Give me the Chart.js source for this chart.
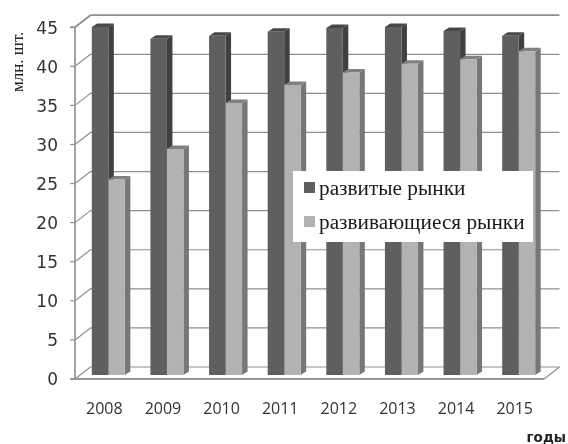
<!DOCTYPE html>
<html>
<head>
<meta charset="utf-8">
<script src="https://cdn.jsdelivr.net/npm/chart.js@4"></script>
<style>
  html, body { margin: 0; padding: 0; background: #fff; }
  canvas { display: block; }
</style>
</head>
<body>
<canvas id="chart" width="568" height="444"></canvas>
<script>
"use strict";

const YEARS = ["2008", "2009", "2010", "2011", "2012", "2013", "2014", "2015"];
const DEVELOPED = [44.5, 43.0, 43.4, 43.9, 44.4, 44.5, 44.0, 43.4];
const EMERGING = [25.0, 28.9, 34.8, 37.1, 38.7, 39.8, 40.4, 41.4];

// bars stand a little inside the floor, so walls and axis sit offset from the plot area
const FLOOR_DX = 4, FLOOR_DY = 4;
const WALL_DX = 15.5, WALL_DY = 12;
const BAR_DX = 5.5, BAR_DY = 3.5;

const FACES = [
  { front: "#5f5f5f", side: "#404040", top: "#484848" },
  { front: "#b2b2b2", side: "#777777", top: "#808080" },
];

function poly(ctx, pts, fill) {
  ctx.beginPath();
  pts.forEach((p, i) => (i ? ctx.lineTo(p[0], p[1]) : ctx.moveTo(p[0], p[1])));
  ctx.closePath();
  ctx.fillStyle = fill;
  ctx.fill();
}

const walls = {
  id: "walls",
  beforeDatasetsDraw(chart) {
    const { ctx, chartArea, scales } = chart;
    const x0 = chartArea.left - FLOOR_DX;
    const x1 = chartArea.right - FLOOR_DX;
    ctx.save();
    ctx.lineJoin = "round";
    scales.y.ticks.forEach(t => {
      const y = scales.y.getPixelForValue(t.value) + FLOOR_DY;
      ctx.strokeStyle = "#8f8f8f";
      ctx.lineWidth = t.value === 45 ? 1.8 : 1.2;
      ctx.beginPath();
      ctx.moveTo(x0, y);
      ctx.lineTo(x0 + WALL_DX, y - WALL_DY);
      ctx.lineTo(x1 + WALL_DX, y - WALL_DY);
      if (t.value === 0) ctx.lineTo(x1, y);
      ctx.stroke();
      ctx.beginPath();
      ctx.moveTo(x0 - 5, y);
      ctx.lineTo(x0, y);
      ctx.stroke();
    });
    const bottom = scales.y.getPixelForValue(0) + FLOOR_DY;
    const top = scales.y.getPixelForValue(45) + FLOOR_DY;
    ctx.strokeStyle = "#999999";
    ctx.lineWidth = 1.8;
    ctx.beginPath();
    ctx.moveTo(x0, top);
    ctx.lineTo(x0, bottom);
    ctx.moveTo(x0 - 5, bottom);
    ctx.lineTo(x1, bottom);
    ctx.stroke();

    // side and top faces go under every front face; the library draws the fronts after this
    chart.getDatasetMeta(0).data.concat(chart.getDatasetMeta(1).data).forEach((bar, i) => {
      const face = FACES[i < YEARS.length ? 0 : 1];
      const l = bar.x - bar.width / 2, r = bar.x + bar.width / 2;
      poly(ctx, [[r, bar.y], [r + BAR_DX, bar.y - BAR_DY], [r + BAR_DX, bar.base - BAR_DY], [r, bar.base]], face.side);
      poly(ctx, [[l, bar.y], [l + BAR_DX, bar.y - BAR_DY], [r + BAR_DX, bar.y - BAR_DY], [r, bar.y]], face.top);
    });
    ctx.restore();
  },
};

const notes = {
  id: "notes",
  afterDraw(chart) {
    const { ctx } = chart;
    ctx.save();
    // legend box over the bars
    ctx.fillStyle = "#ffffff";
    ctx.fillRect(293, 171, 240, 71);
    ctx.textAlign = "left";
    ctx.textBaseline = "alphabetic";
    ctx.font = '21.3px "Liberation Serif"';
    [[182, 195], [216, 229]].forEach((row, i) => {
      ctx.fillStyle = FACES[i].front;
      ctx.fillRect(304, row[0], 11, 11);
      ctx.fillStyle = "#1a1a1a";
      ctx.fillText(chart.data.datasets[i].label, 319, row[1]);
    });
    // axis captions
    ctx.font = 'bold 13.5px "DejaVu Sans"';
    ctx.fillStyle = "#222222";
    ctx.textAlign = "right";
    ctx.fillText("годы", 566, 442);
    ctx.translate(23, 92);
    ctx.rotate(-Math.PI / 2);
    ctx.textAlign = "left";
    ctx.font = '17px "Liberation Serif"';
    ctx.fillText("млн. шт.", 0, 0);
    ctx.restore();
  },
};

new Chart(document.getElementById("chart"), {
  type: "bar",
  data: {
    labels: YEARS,
    datasets: [
      { label: "развитые рынки", data: DEVELOPED, backgroundColor: FACES[0].front },
      { label: "развивающиеся рынки", data: EMERGING, backgroundColor: FACES[1].front },
    ],
  },
  options: {
    responsive: false,
    animation: false,
    devicePixelRatio: 1,
    layout: { padding: { top: 23, right: 20, left: 0, bottom: 0 } },
    categoryPercentage: 0.5632,
    barPercentage: 1,
    plugins: { legend: { display: false }, tooltip: { enabled: false } },
    scales: {
      x: {
        grid: { display: false },
        border: { display: false },
        afterFit: s => { s.height = 69; },
        ticks: {
          color: "#333333",
          font: { family: "Open Sans", size: 16 },
          padding: 17,
          labelOffset: -FLOOR_DX,
          maxRotation: 0,
        },
      },
      y: {
        min: 0,
        max: 45,
        grid: { display: false },
        border: { display: false },
        afterFit: s => { s.width = 79; },
        ticks: {
          stepSize: 5,
          color: "#333333",
          font: { family: "DejaVu Sans", size: 17 },
          padding: 13,
          labelOffset: FLOOR_DY + 2,
        },
      },
    },
  },
  plugins: [walls, notes],
});
</script>
</body>
</html>
